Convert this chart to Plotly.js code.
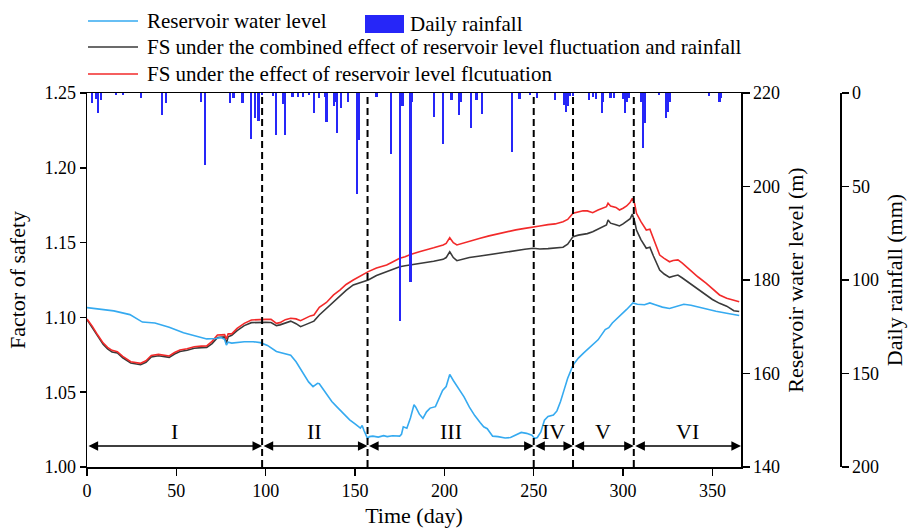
<!DOCTYPE html>
<html>
<head>
<meta charset="utf-8">
<script src="https://cdn.plot.ly/plotly-3.0.1.min.js"></script>
<style>html,body{margin:0;padding:0;background:#fff;}#chart{width:910px;height:528px;}</style>
</head>
<body>
<div id="chart"></div>
<script>
// ---------------- data ----------------
const levelDay = [0,8,15,24,31,38,46,54,62,67,72,75,77,78,79,81,88,93,97,101,106,110,114,117,120,124,126.5,129,130,133,137,140,144,147,150,153,154,155,157,158,160,163,166,168,171,175,176,177,179,181,183,184,186,188,190,192,195,197,199,201,203,205,208,211,214,217,220,222,224,227,230,234,237,240,243,246,249,250.5,252,254,256,258,261,263,265,267,269,272,275,278,283,286,290,292,294,298,302,305.5,308,312,315,318,322,326,330,334,338,342,347,352,358,365];
const levelVal = [174.1,173.7,173.4,172.6,171.0,170.8,169.9,168.7,167.8,167.4,167.5,167.7,167.3,166.1,166.7,166.5,166.8,166.8,166.6,166.0,164.7,164.3,163.9,162.5,160.6,158.2,157.2,157.9,157.8,156.2,154.0,152.8,151.2,150.1,149.2,148.3,148.9,147.8,146.1,146.5,146.6,146.4,146.7,146.5,146.7,146.6,147.0,148.6,148.3,150.5,153.3,152.8,151.3,150.4,151.8,152.6,152.9,154.8,156.4,157.2,159.8,158.5,156.7,155.0,152.8,151.0,149.5,148.6,148.2,146.6,146.5,146.2,146.3,146.9,147.4,147.2,146.8,146.1,146.3,147.5,150.0,150.8,151.1,152.0,154.0,156.5,159.0,161.8,163.3,164.4,166.1,167.2,169.4,169.8,170.8,172.2,173.7,175.1,174.8,174.7,175.1,174.7,174.2,173.9,174.4,174.8,174.6,174.2,173.7,173.3,172.9,172.4];

const fsDay = [0,3,6,9,11.5,14,17,20,24.5,27,30,33,36,40,43,46,49,52,56,60,64,67,70,73,77,78,79,81,84,88,92,96,100,103,106,108,111,114,117,119.5,122,125,127,130,134,138,141.5,145,149,153,157.4,162,167.7,171,175,178,181,186,190,194,199.3,201,203,205,207,210,214,220,225,230,235,240,245,249.7,253.4,258,262,266.4,269,272,275,277.6,280,283,286,289,290.7,291.6,293,296,298,300,302,304,305.2,306.5,307.5,310,313,315,317,320.5,323,326,328,330.7,333,337.3,342,346.6,350,354,358,362,365];
const fsLevelOnly = [1.0989,1.0940,1.0882,1.0830,1.0800,1.0780,1.0771,1.0740,1.0704,1.0697,1.0693,1.0710,1.0745,1.0753,1.0750,1.0742,1.0765,1.0782,1.0790,1.0804,1.0808,1.0809,1.0840,1.0882,1.0885,1.0855,1.0890,1.0890,1.0927,1.0960,1.0983,1.0987,1.0987,1.0987,1.0960,1.0965,1.0985,1.0994,1.0990,1.0978,1.0995,1.1010,1.1016,1.1068,1.1100,1.1150,1.1183,1.1220,1.1250,1.1278,1.1306,1.1330,1.1350,1.1370,1.1395,1.1405,1.1420,1.1439,1.1450,1.1465,1.1484,1.1495,1.1533,1.1500,1.1484,1.1495,1.1510,1.1529,1.1545,1.1560,1.1573,1.1585,1.1595,1.1606,1.1611,1.1620,1.1625,1.1640,1.1655,1.1696,1.1705,1.1713,1.1712,1.1700,1.1718,1.1735,1.1740,1.1763,1.1745,1.1735,1.1718,1.1730,1.1745,1.1770,1.1796,1.1760,1.1696,1.1640,1.1584,1.1589,1.1530,1.1417,1.1395,1.1372,1.1380,1.1384,1.1365,1.1317,1.1270,1.1228,1.1190,1.1150,1.1128,1.1115,1.1105];
const fsCombined = [1.0985,1.0932,1.0872,1.0820,1.0790,1.0768,1.0762,1.0730,1.0695,1.0688,1.0684,1.0700,1.0735,1.0744,1.0741,1.0733,1.0755,1.0772,1.0780,1.0794,1.0798,1.0799,1.0825,1.0865,1.0870,1.0825,1.0870,1.0880,1.0912,1.0945,1.0965,1.0968,1.0967,1.0966,1.0945,1.0950,1.0965,1.0975,1.0958,1.0938,1.0950,1.0965,1.0975,1.1016,1.1060,1.1105,1.1138,1.1180,1.1217,1.1235,1.1250,1.1280,1.1306,1.1322,1.1339,1.1345,1.1350,1.1357,1.1365,1.1375,1.1388,1.1400,1.1439,1.1400,1.1379,1.1390,1.1400,1.1410,1.1420,1.1428,1.1440,1.1448,1.1455,1.1462,1.1457,1.1460,1.1462,1.1469,1.1490,1.1540,1.1550,1.1555,1.1560,1.1573,1.1590,1.1605,1.1618,1.1651,1.1630,1.1620,1.1611,1.1625,1.1640,1.1660,1.1690,1.1640,1.1584,1.1520,1.1462,1.1469,1.1410,1.1317,1.1290,1.1268,1.1275,1.1283,1.1265,1.1228,1.1190,1.1150,1.1120,1.1094,1.1075,1.1045,1.1040];

const rainDay = [3,5,6,8,16,20,30,42,44,64,66,80,82,87,92,94,96,98,104,106,110,111,115,118,121,124,127,130,133,134,138,139,140,142,146,151,152,162,170,175,176,177,181,182,194,199,204,208,209,215,218,221,238,242,248,252,262,267,268,269,270,272,281,283,285,288,289,293,295,300,301,302,303,310,311,312,320,324,325,326,348,354,355];
const rainVal = [5.5,3,10.5,3.7,1,1,2.8,12,5.5,4.6,38.5,5.5,2.8,5.5,24.6,13.5,14.8,1,1.8,22.5,5.9,22.5,2,2,2.3,1,10.9,2.8,2.3,15.3,7,4.6,21.6,8.2,4.6,54,25,2.3,32.6,122,7,7,101,4.6,12.6,27.3,3.5,12,5,18.9,3.7,11.4,31.4,3.4,1,2.5,3.7,6.4,10,7,1.5,1.5,4,2,3,10.9,5,2.5,2.8,3.2,10.6,5,2.8,4.6,29.6,16.2,1,13.5,10,4.6,1.5,4.6,2.8];

const phaseBounds = [0, 98, 157, 250, 272, 306, 366];
const phaseLabels = ['I', 'II', 'III', 'IV', 'V', 'VI'];

const xTicks = [0, 50, 100, 150, 200, 250, 300, 350];
const fsTicks = [1.00, 1.05, 1.10, 1.15, 1.20, 1.25];
const levelTicks = [140, 160, 180, 200, 220];
const rainTicks = [0, 50, 100, 150, 200];

const legendNames = {
  level: 'Reservoir water level',
  rain: 'Daily rainfall',
  combined: 'FS under the combined effect of reservoir level fluctuation and rainfall',
  levelOnly: 'FS under the effect of reservoir level flcutuation'
};

// ---------------- styling ----------------
const FONT = '"Liberation Serif", "Times New Roman", Times, serif';
const C_BLUE = '#35aaf0', C_RED = '#f22a2a', C_BLACK = '#3a3a3a', C_BAR = '#2626f8';
const M = {l: 87, r: 70, t: 93, b: 61};
const W = 910, H = 528;
const PW = W - M.l - M.r, PH = H - M.t - M.b;
const px2x = p => (p - M.l) / PW;
const px2y = p => (H - M.b - p) / PH;

const traces = [
  {type: 'bar', x: rainDay, y: rainVal, yaxis: 'y3', name: legendNames.rain,
   marker: {color: C_BAR, line: {width: 0}}, width: 1.2, showlegend: false},
  {type: 'scatter', mode: 'lines', x: levelDay, y: levelVal, yaxis: 'y2', name: legendNames.level,
   line: {color: C_BLUE, width: 1.6}, showlegend: false},
  {type: 'scatter', mode: 'lines', x: fsDay, y: fsCombined, yaxis: 'y', name: legendNames.combined,
   line: {color: C_BLACK, width: 1.6}, showlegend: false},
  {type: 'scatter', mode: 'lines', x: fsDay, y: fsLevelOnly, yaxis: 'y', name: legendNames.levelOnly,
   line: {color: C_RED, width: 1.6}, showlegend: false}
];

const shapes = [];
const annotations = [];
// phase boundaries (dashed)
for (let i = 1; i < phaseBounds.length - 1; i++) {
  shapes.push({type: 'line', xref: 'x', yref: 'paper', x0: phaseBounds[i], x1: phaseBounds[i], y0: 0, y1: 1,
    line: {color: '#000', width: 2, dash: '7px,4px'}});
}
// phase arrows and labels
const arrowY = 1.014, labelY = 1.0235;
for (let i = 0; i < phaseLabels.length; i++) {
  annotations.push({xref: 'x', yref: 'y', x: phaseBounds[i + 1], y: arrowY, axref: 'x', ayref: 'y',
    ax: phaseBounds[i], ay: arrowY, text: '', showarrow: true, arrowside: 'end+start', arrowhead: 2,
    arrowsize: 1.2, arrowwidth: 1.6, arrowcolor: '#000', standoff: 0, startstandoff: 0});
  annotations.push({xref: 'x', yref: 'y', x: (phaseBounds[i] + phaseBounds[i + 1]) / 2, y: labelY,
    text: phaseLabels[i], showarrow: false, font: {family: FONT, size: 22, color: '#000'}});
}
// custom legend
const legRows = [
  {py: 21, color: C_BLUE, text: legendNames.level},
  {py: 47, color: C_BLACK, text: legendNames.combined},
  {py: 74, color: C_RED, text: legendNames.levelOnly}
];
legRows.forEach(r => {
  shapes.push({type: 'line', xref: 'paper', yref: 'paper', x0: px2x(88), x1: px2x(138), y0: px2y(r.py), y1: px2y(r.py),
    line: {color: r.color, width: 1.6}});
  annotations.push({xref: 'paper', yref: 'paper', x: px2x(145), y: px2y(r.py), xanchor: 'left', yanchor: 'middle',
    text: r.text, showarrow: false, font: {family: FONT, size: 21, color: '#000'}});
});
shapes.push({type: 'rect', xref: 'paper', yref: 'paper', x0: px2x(365), x1: px2x(404), y0: px2y(33), y1: px2y(15),
  fillcolor: C_BAR, line: {width: 0}});
annotations.push({xref: 'paper', yref: 'paper', x: px2x(408), y: px2y(24), xanchor: 'left', yanchor: 'middle',
  text: legendNames.rain, showarrow: false, font: {family: FONT, size: 21, color: '#000'}});

const axisCommon = {showgrid: false, zeroline: false, showline: true, linecolor: '#000', linewidth: 1.5,
  ticks: 'outside', tickcolor: '#000', tickwidth: 1.5, tickfont: {family: FONT, size: 18, color: '#000'}};

const layout = {
  width: W, height: H, margin: M, paper_bgcolor: '#fff', plot_bgcolor: '#fff', showlegend: false,
  font: {family: FONT, color: '#000'},
  bargap: 0,
  xaxis: Object.assign({}, axisCommon, {domain: [0, px2x(741)], range: [0, 366], tickvals: xTicks, ticklen: 7,
    mirror: true, title: {text: 'Time (day)', font: {family: FONT, size: 22}, standoff: 7}}),
  yaxis: Object.assign({}, axisCommon, {range: [1.0, 1.25], tickvals: fsTicks, tickformat: '.2f', ticklen: 6,
    title: {text: 'Factor of safety', font: {family: FONT, size: 22}, standoff: 12}}),
  yaxis2: Object.assign({}, axisCommon, {overlaying: 'y', side: 'right', anchor: 'x', range: [140, 220],
    tickvals: levelTicks, ticklen: 7, title: {text: 'Reservoir water level (m)', font: {family: FONT, size: 22}, standoff: 8}}),
  yaxis3: Object.assign({}, axisCommon, {overlaying: 'y', side: 'right', anchor: 'free', position: 1,
    range: [200, 0], tickvals: rainTicks, ticklen: 7,
    title: {text: 'Daily rainfall (mm)', font: {family: FONT, size: 22}, standoff: 8}}),
  shapes: shapes,
  annotations: annotations
};

Plotly.newPlot('chart', traces, layout, {displayModeBar: false, staticPlot: true});
</script>
</body>
</html>
